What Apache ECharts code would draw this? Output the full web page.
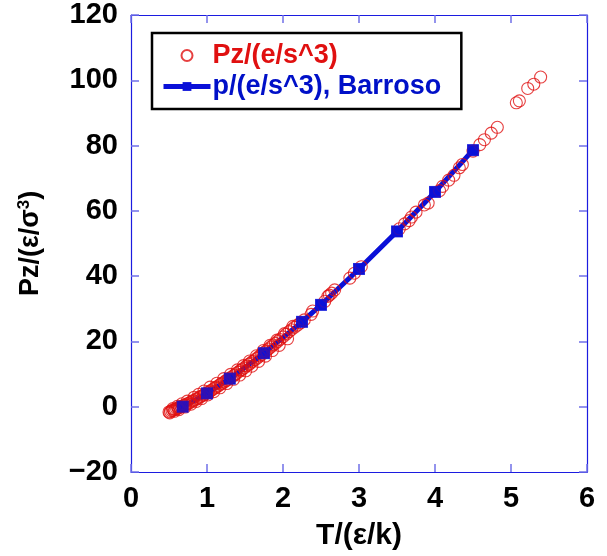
<!DOCTYPE html>
<html><head><meta charset="utf-8">
<script src="https://cdn.jsdelivr.net/npm/echarts@6/dist/echarts.min.js"></script>
<style>html,body{margin:0;padding:0;background:#fff}#c{width:607px;height:556px}</style>
</head><body><div id="c"></div>
<script>
// Tick labels
const xTicks = [0, 1, 2, 3, 4, 5, 6];
const yTicks = [-20, 0, 20, 40, 60, 80, 100, 120];

// Series 1: Pz/(e/s^3)  (simulation, open red circles)
const pzT = [0.50,0.52,0.54,0.56,0.58,0.60,0.62,0.64,0.66,0.68,0.70,0.72,0.75,0.77,0.80,0.82,0.85,0.87,0.90,0.92,0.95,0.97,1.00,1.02,1.05,1.07,1.10,1.12,1.15,1.18,1.20,1.23,1.25,1.28,1.30,1.33,1.36,1.38,1.41,1.44,1.46,1.49,1.52,1.55,1.57,1.60,1.63,1.66,1.69,1.72,1.75,1.78,1.81,1.84,1.87,1.90,1.93,1.96,2.00,2.04,2.08,2.11,2.15,2.19,2.23,2.28,
  0.55,0.61,0.67,0.74,0.83,0.89,0.96,1.04,1.13,1.22,1.31,1.40,1.48,1.56,1.65,1.74,1.83,1.92,2.02,2.13,
  0.51,0.57,0.63,0.71,0.79,0.86,0.93,1.01,1.09,1.17,1.26,1.35,1.43,1.51,1.59,1.68,1.77,1.86,1.95,2.06,
  2.37,2.39,2.55,2.59,2.61,2.64,2.68,2.88,2.94,3.03,3.53,3.60,3.66,3.69,3.75,3.86,3.91,4.06,4.10,4.18,4.25,4.32,4.36,4.50,4.59,4.65,4.74,4.82,5.07,5.11,5.22,5.30,5.39];
const pzV = [-1.6,-1.4,-1.2,-1.0,-0.8,-0.6,-0.4,-0.2,0.0,0.2,0.4,0.6,1.0,1.2,1.6,1.9,2.2,2.5,2.9,3.2,3.5,3.8,4.2,4.5,4.9,5.2,5.7,6.0,6.4,6.9,7.2,7.6,8.0,8.4,8.8,9.2,9.7,10.1,10.6,11.1,11.4,11.9,12.5,13.0,13.3,13.9,14.4,14.9,15.5,16.0,16.6,17.1,17.7,18.3,18.9,19.4,20.0,20.6,21.4,22.2,23.0,23.6,24.3,25.0,25.7,26.6,
  -0.6,0.1,0.9,1.7,2.9,3.8,4.8,6.0,7.2,8.6,9.9,11.3,12.6,14.0,15.6,17.2,18.8,20.4,22.4,24.6,
  -1.9,-1.4,-0.9,-0.1,0.8,1.6,2.5,3.6,4.6,5.8,7.1,8.4,9.7,11.0,12.4,13.9,15.5,17.2,18.8,20.8,
  28.3,29.3,32.3,33.8,34.2,34.8,35.8,39.4,40.9,42.9,54.5,56.0,57.0,58.1,59.6,61.8,62.4,66.2,67.5,69.4,70.9,73.2,74.2,78.3,80.3,81.8,83.8,85.6,93.1,93.7,97.5,98.8,101.0];

// Series 2: p/(e/s^3), Barroso (blue line with squares)
const barT = [0.68, 1.00, 1.30, 1.75, 2.25, 2.50, 3.00, 3.50, 4.00, 4.50];
const barV = [0.0, 4.1, 8.6, 16.4, 26.0, 31.2, 42.2, 53.7, 65.8, 78.6];

const pzData = pzT.map((t, i) => [t, pzV[i]]);
const barData = barT.map((t, i) => [t, barV[i]]);

const RED = '#e01010';
const BLUE = '#0a10d8';
const AX = '#1c1ce0';
const TICK = '#7070e8';
const lblFont = '"Liberation Sans Narrow","Liberation Sans",Arial,sans-serif';
const font = '"Liberation Sans",Arial,sans-serif';

function axisCommon(extra) {
  return Object.assign({
    axisLine: { show: true, onZero: false, lineStyle: { color: AX, width: 1.2 } },
    axisTick: { show: true, inside: true, length: 8, lineStyle: { color: TICK, width: 1.5 } },
    splitLine: { show: false }
  }, extra);
}

const chart = echarts.init(document.getElementById('c'), null, { renderer: 'canvas' });
chart.setOption({
  animation: false,
  backgroundColor: '#fff',
  grid: { left: 131, right: 20, top: 15, bottom: 80, containLabel: false },
  xAxis: [
    axisCommon({
      type: 'value', position: 'bottom', min: xTicks[0], max: xTicks[xTicks.length - 1], interval: 1,
      axisLabel: { color: '#000', fontSize: 29, fontWeight: 'bold', fontFamily: lblFont, margin: 12 },
      name: 'T/(ε/k)', nameLocation: 'middle', nameGap: 49,
      nameTextStyle: { color: '#000', fontSize: 30, fontWeight: 'bold', fontFamily: font }
    }),
    axisCommon({
      type: 'value', position: 'top', min: xTicks[0], max: xTicks[xTicks.length - 1], interval: 1,
      axisLabel: { show: false }
    })
  ],
  yAxis: [
    axisCommon({
      type: 'value', position: 'left', min: yTicks[0], max: yTicks[yTicks.length - 1], interval: 20,
      axisLabel: { color: '#000', fontSize: 29, fontWeight: 'bold', fontFamily: font, margin: 13,
        formatter: v => String(v).replace('-', '\u2212') },
      name: 'Pz/(ε/σ{sup|3})', nameLocation: 'middle', nameGap: 86,
      nameTextStyle: { color: '#000', fontSize: 27, fontWeight: 'bold', fontFamily: font,
        rich: { sup: { fontSize: 17, fontWeight: 'bold', fontFamily: font, color: '#000', verticalAlign: 'top', padding: [0, 0, 12, 0] } } }
    }),
    axisCommon({
      type: 'value', position: 'right', min: yTicks[0], max: yTicks[yTicks.length - 1], interval: 20,
      axisLabel: { show: false }
    })
  ],
  legend: {
    orient: 'vertical', left: 152, top: 33,
    padding: [9, 20, 9, 9],
    itemGap: 4,
    itemWidth: 47, itemHeight: 11,
    borderColor: '#000', borderWidth: 2.5,
    backgroundColor: '#fff',
    selectedMode: false,
    textStyle: { fontSize: 27, fontWeight: 'bold', fontFamily: font, padding: [0, 0, 0, -3] },
    data: [
      { name: 'Pz/(e/s^3)', textStyle: { color: RED } },
      { name: 'p/(e/s^3), Barroso', textStyle: { color: '#0010c8' }, lineStyle: { width: 5 } }
    ]
  },
  series: [
    {
      name: 'p/(e/s^3), Barroso', type: 'line', data: barData, z: 1,
      symbol: 'rect', symbolSize: 11, showSymbol: true,
      lineStyle: { color: BLUE, width: 5 },
      itemStyle: { color: BLUE }
    },
    {
      name: 'Pz/(e/s^3)', type: 'scatter', data: pzData, z: 2,
      symbol: 'circle', symbolSize: 12,
      itemStyle: { color: 'rgba(0,0,0,0)', borderColor: RED, borderWidth: 1.1 }
    },
    {
      name: 'squares', type: 'scatter', data: barData, z: 3,
      symbol: 'rect', symbolSize: 12,
      itemStyle: { color: BLUE }
    }
  ]
});
</script>
</body></html>
